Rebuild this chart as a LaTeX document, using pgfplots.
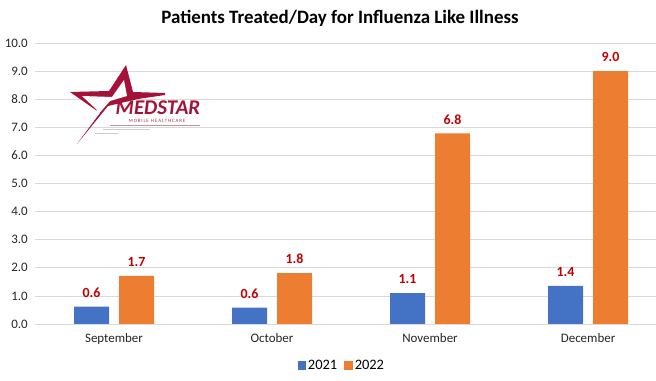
\documentclass[border=0pt]{standalone}
\usepackage{pgfplots}
\pgfplotsset{compat=1.18}
\usepackage{fontspec}
\setmainfont{Carlito}
\definecolor{bblue}{HTML}{4472C4}
\definecolor{borange}{HTML}{ED7D31}
\definecolor{lblred}{HTML}{C00000}
\definecolor{gridgray}{HTML}{D9D9D9}
\definecolor{logored}{RGB}{165,18,55}
\begin{document}
\begin{tikzpicture}
\useasboundingbox (0,0) rectangle (656bp,381bp);
\begin{axis}[
  at={(35bp,57bp)}, anchor=south west,
  scale only axis, width=621bp, height=281bp,
  xmin=-0.5, xmax=3.43, ymin=0, ymax=10,
  ybar=10bp, bar width=35bp,
  xtick={0,1,2,3},
  xticklabels={September,October,November,December},
  ytick={0,1,...,10},
  yticklabel={\pgfmathprintnumber[fixed,fixed zerofill,precision=1]{\tick}},
  /pgf/number format/assume math mode=true,
  ymajorgrids, major grid style={gridgray, line width=0.75bp},
  axis line style={draw=none},
  axis x line*=bottom,
  major tick length=0pt,
  tick style={draw=none},
  ticklabel style={font=\fontsize{13}{15}\selectfont, text=black!85, inner sep=0pt},
  yticklabel style={xshift=-7bp},
  xticklabel style={yshift=-9bp},
  nodes near coords={\pgfmathprintnumber[fixed,fixed zerofill,precision=1]{\pgfplotspointmeta}},
  every node near coord/.append style={font=\bfseries\fontsize{14}{16}\selectfont, text=lblred, inner sep=0pt, anchor=south, yshift=9bp},
  legend style={at={(0.494,-0.149)}, anchor=center, legend columns=2, draw=none, font=\fontsize{14.5}{16}\selectfont, /tikz/every even column/.append style={column sep=5bp}},
  legend image code/.code={\fill[#1,draw=none] (0bp,-4bp) rectangle (8.5bp,4.5bp);},
  clip=false,
]
\addplot[fill=bblue, draw=none] coordinates {(0,0.62) (1,0.58) (2,1.10) (3,1.36)};
\addplot[fill=borange, draw=none] coordinates {(0,1.71) (1,1.81) (2,6.78) (3,9.0)};
\legend{2021,2022}
\draw[gridgray, line width=0.75bp] (rel axis cs:0,0) -- (rel axis cs:1,0);
\end{axis}
\node[font=\bfseries\fontsize{19}{22}\selectfont] at (340bp,363bp) {Patients Treated/Day for Influenza Like Illness};
\begin{scope}[shift={(0,381bp)}, x=1bp, y=-1bp]
  \fill[logored] (126,65) -- (133,92) -- (165,93) -- (165,95) -- (138,99) -- (108,106) -- (77,144) -- (100,113) -- (70,92) -- (109,91) -- cycle;
  \fill[white] (124,80) -- (127,96) -- (110,101) -- (90,124) -- (97,110) -- (82,96) -- (112,97) -- cycle;
  \node[font=\bfseries\itshape\fontsize{21}{21}\selectfont, text=logored, inner sep=0] at (158,108) {MEDSTAR};
  \node[font=\fontsize{5}{5}\selectfont, text=logored!70!gray, inner sep=0] at (157,121) {M\,O\,B\,I\,L\,E\ \ H\,E\,A\,L\,T\,H\,C\,A\,R\,E};
  \draw[logored!40!gray!60, line width=0.6] (110,125) -- (200,125);
  \draw[gray!40, line width=0.6] (103,129) -- (150,129);
  \draw[gray!40, line width=0.6] (95,133) -- (118,133);
\end{scope}
\end{tikzpicture}
\end{document}
